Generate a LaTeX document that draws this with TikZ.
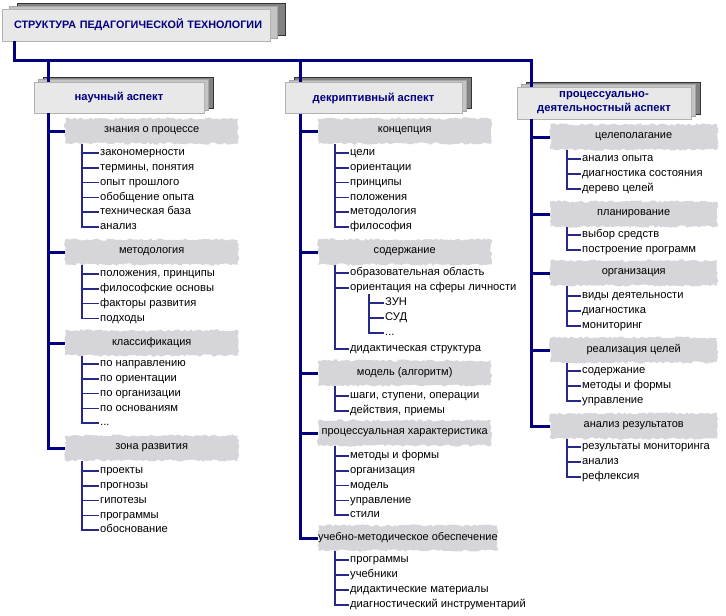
\documentclass[tikz,border=0pt]{standalone}
\usepackage{fontspec}
\setmainfont{Liberation Sans}
\usetikzlibrary{shadows,decorations.pathmorphing}

\definecolor{navyline}{RGB}{0,0,128}
\definecolor{twigline}{RGB}{40,40,140}
\definecolor{bandgray}{RGB}{214,214,218}
\definecolor{boxfront}{RGB}{232,232,232}
\definecolor{boxmid}{RGB}{196,196,196}
\definecolor{boxback}{RGB}{130,130,130}

\newcommand{\etcdots}{...}

\tikzset{
  trunk/.style={navyline, line width=3pt},
  twig/.style={twigline, line width=1.5pt},
  titlebox/.style={draw=gray!60, fill=boxfront, text=navyline, font=\bfseries\fontsize{10.8}{12}\selectfont,
    minimum width=268pt, minimum height=32pt, text width=252pt, align=right,
    general shadow={fill=boxback, draw=gray!40!black, shadow xshift=15pt, shadow yshift=6pt},
    general shadow={fill=boxmid, draw=gray!70, shadow xshift=7pt, shadow yshift=3pt}},
  aspect/.style={draw=gray!60, fill=boxfront, text=navyline, font=\bfseries\fontsize{11.2}{14}\selectfont,
    align=center, minimum height=31pt,
    general shadow={fill=boxback, draw=gray!40!black, shadow xshift=9pt, shadow yshift=5pt},
    general shadow={fill=boxmid, draw=gray!70, shadow xshift=4.5pt, shadow yshift=2.5pt}},
  band/.style={anchor=west, fill=bandgray, minimum width=173pt, minimum height=25pt, inner sep=0pt,
    font=\fontsize{11}{12}\selectfont,
    decorate, decoration={random steps, segment length=2.5pt, amplitude=1.2pt}},
  item/.style={anchor=west, inner xsep=1pt, inner ysep=0pt, text height=8pt, text depth=2.6pt,
    font=\fontsize{11.2}{12}\selectfont}
}

\begin{document}
\begin{tikzpicture}[x=1pt, y=-1pt]
  \pgfmathsetseed{7}
  \useasboundingbox (0,0) rectangle (726,616);

  % Header and aspects
  \node[titlebox] (title) at (136,25) {СТРУКТУРА ПЕДАГОГИЧЕСКОЙ ТЕХНОЛОГИИ};
  \node[aspect, minimum width=170pt] (a1) at (119,97.5) {научный аспект};
  \node[aspect, minimum width=177pt] (a2) at (373.5,98) {декриптивный аспект};
  \node[aspect, minimum width=174pt, minimum height=32pt] (a3) at (604,103) {процессуально-\\деятельностный аспект};

  \coordinate (bus) at (14,60);
  \coordinate (k1) at ([xshift=15pt]a1.south west);
  \coordinate (k2) at ([xshift=16pt]a2.south west);
  \coordinate (k3) at ([xshift=15pt]a3.south west);
  \draw[trunk] (title.south -| bus) -- (bus) -| (a3.north -| k3);
  \draw[trunk] (bus -| k1) -- (a1.north -| k1);
  \draw[trunk] (bus -| k2) -- (a2.north -| k2);

  % Column 1: scientific aspect
  \node[band] (b11) at (65,131) {знания о процессе};
  \node[band] (b12) at (65,252) {методология};
  \node[band] (b13) at (65,343) {классификация};
  \node[band] (b14) at (65,448) {зона развития};
  \draw[trunk] (k1) |- (b14.west);
  \foreach \b in {b11,b12,b13}
    \draw[trunk] (k1 |- \b.west) -- (\b.west);

  \foreach \t [count=\i] in {закономерности, {термины, понятия}, опыт прошлого, обобщение опыта, техническая база, анализ}
    \node[item] (b11-\i) at (99,{138.2+14.8*\i}) {\t};
  \foreach \t [count=\i] in {{положения, принципы}, философские основы, факторы развития, подходы}
    \node[item] (b12-\i) at (99,{259.2+14.8*\i}) {\t};
  \foreach \t [count=\i] in {по направлению, по ориентации, по организации, по основаниям, \etcdots}
    \node[item] (b13-\i) at (99,{349.2+14.8*\i}) {\t};
  \foreach \t [count=\i] in {проекты, прогнозы, гипотезы, программы, обоснование}
    \node[item] (b14-\i) at (99,{456.2+14.8*\i}) {\t};

  % Column 2: descriptive aspect
  \node[band] (b21) at (318,131) {концепция};
  \node[band] (b22) at (318,252) {содержание};
  \node[band] (b23) at (318,373) {модель (алгоритм)};
  \node[band] (b24) at (318,433) {процессуальная характеристика};
  \node[band] (b25) at (318,538) {учебно-методическое обеспечение};
  \draw[trunk] (k2) |- (b25.west);
  \foreach \b in {b21,b22,b23,b24}
    \draw[trunk] (k2 |- \b.west) -- (\b.west);

  \foreach \t [count=\i] in {цели, ориентации, принципы, положения, методология, философия}
    \node[item] (b21-\i) at (349,{138.2+14.8*\i}) {\t};
  \node[item] (b22-1) at (349,273) {образовательная область};
  \node[item] (b22-2) at (349,288) {ориентация на сферы личности};
  \node[item] (b22-3) at (349,349) {дидактическая структура};
  \foreach \t [count=\i] in {ЗУН, СУД, \etcdots}
    \node[item] (b22-2-\i) at (384,{288+15*\i}) {\t};
  \foreach \t [count=\i] in {{шаги, ступени, операции}, {действия, приемы}}
    \node[item] (b23-\i) at (349,{381+15*\i}) {\t};
  \foreach \t [count=\i] in {методы и формы, организация, модель, управление, стили}
    \node[item] (b24-\i) at (349,{441.2+14.8*\i}) {\t};
  \foreach \t [count=\i] in {программы, учебники, дидактические материалы, диагностический инструментарий}
    \node[item] (b25-\i) at (349,{545+15*\i}) {\t};

  % Column 3: process aspect
  \node[band, minimum width=167pt] (b31) at (550,137) {целеполагание};
  \node[band, minimum width=167pt] (b32) at (550,214) {планирование};
  \node[band, minimum width=167pt] (b33) at (550,273) {организация};
  \node[band, minimum width=167pt] (b34) at (550,350) {реализация целей};
  \node[band, minimum width=167pt] (b35) at (550,426) {анализ результатов};
  \draw[trunk] (k3) |- (b35.west);
  \foreach \b in {b31,b32,b33,b34}
    \draw[trunk] (k3 |- \b.west) -- (\b.west);

  \foreach \t [count=\i] in {анализ опыта, диагностика состояния, дерево целей}
    \node[item] (b31-\i) at (581,{144+15*\i}) {\t};
  \foreach \t [count=\i] in {выбор средств, построение программ}
    \node[item] (b32-\i) at (581,{220+15*\i}) {\t};
  \foreach \t [count=\i] in {виды деятельности, диагностика, мониторинг}
    \node[item] (b33-\i) at (581,{281+15*\i}) {\t};
  \foreach \t [count=\i] in {содержание, методы и формы, управление}
    \node[item] (b34-\i) at (581,{356+15*\i}) {\t};
  \foreach \t [count=\i] in {результаты мониторинга, анализ, рефлексия}
    \node[item] (b35-\i) at (581,{432+15*\i}) {\t};

  % Twigs under every band
  \foreach \b/\n in {b11/6, b12/4, b13/5, b14/5, b21/6, b22/3, b23/2, b24/5, b25/4,
                     b31/3, b32/2, b33/3, b34/3, b35/3} {
    \coordinate (t-\b) at ([xshift=17pt]\b.south west);
    \draw[twig] (t-\b) |- (\b-\n.west);
    \foreach \i in {1,...,\n}
      \draw[twig] (t-\b |- \b-\i.west) -- (\b-\i.west);
  }
  \coordinate (t-b22-2) at ([xshift=20pt]b22-2.south west);
  \draw[twig] (t-b22-2) |- (b22-2-3.west);
  \foreach \i in {1,2}
    \draw[twig] (t-b22-2 |- b22-2-\i.west) -- (b22-2-\i.west);
\end{tikzpicture}
\end{document}
